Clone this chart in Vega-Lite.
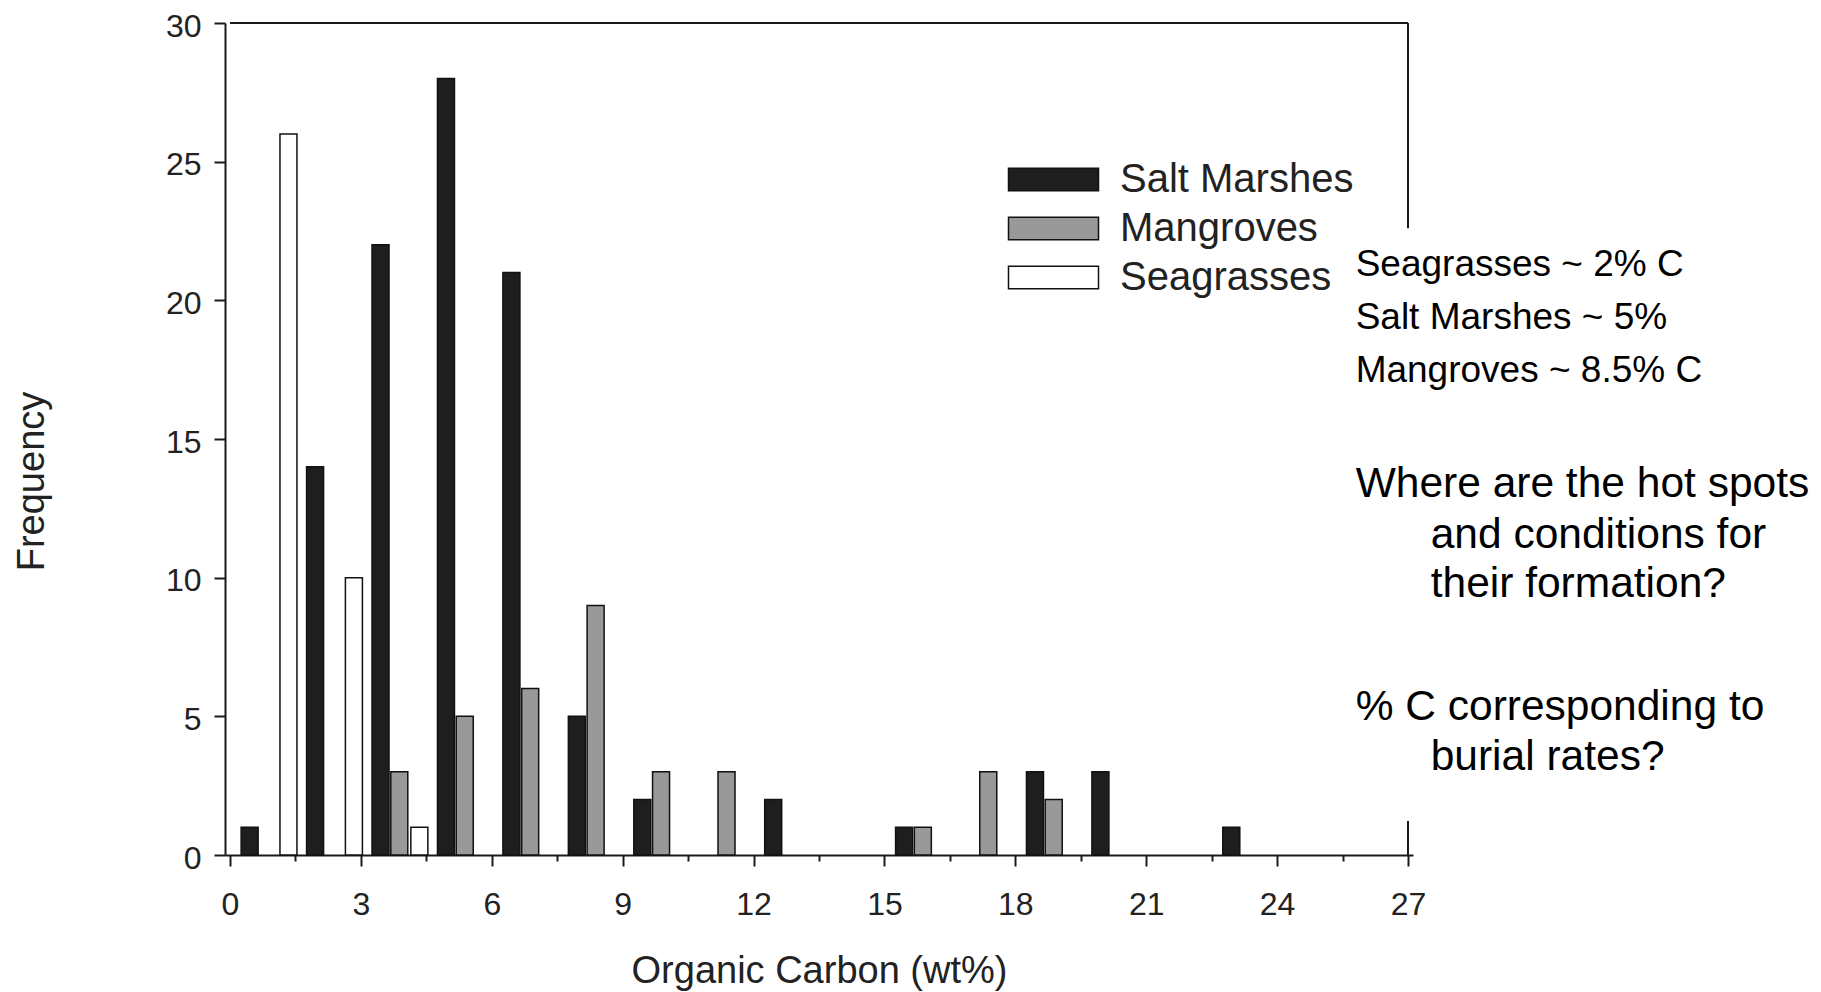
{
  "$schema": "https://vega.github.io/schema/vega-lite/v6.json",
  "width": 1188,
  "height": 832,
  "autosize": {"type": "none"},
  "padding": {"left": 225, "top": 23, "right": 408, "bottom": 137},
  "background": "white",
  "config": {
    "view": {"stroke": null},
    "font": "Liberation Sans",
    "axis": {
      "grid": false,
      "domainColor": "#1a1a1a",
      "domainWidth": 2,
      "tickColor": "#1a1a1a",
      "tickWidth": 2,
      "labelColor": "#222222",
      "titleColor": "#222222",
      "labelFont": "Liberation Sans",
      "titleFont": "Liberation Sans",
      "titleFontWeight": "normal",
      "labelFlush": false,
      "labelOverlap": false
    }
  },
  "datasets": {
    "hist": [
      {"oc": 0.45, "habitat": "Salt Marshes", "frequency": 1},
      {"oc": 1.95, "habitat": "Salt Marshes", "frequency": 14},
      {"oc": 3.45, "habitat": "Salt Marshes", "frequency": 22},
      {"oc": 4.95, "habitat": "Salt Marshes", "frequency": 28},
      {"oc": 6.45, "habitat": "Salt Marshes", "frequency": 21},
      {"oc": 7.95, "habitat": "Salt Marshes", "frequency": 5},
      {"oc": 9.45, "habitat": "Salt Marshes", "frequency": 2},
      {"oc": 12.45, "habitat": "Salt Marshes", "frequency": 2},
      {"oc": 15.45, "habitat": "Salt Marshes", "frequency": 1},
      {"oc": 18.45, "habitat": "Salt Marshes", "frequency": 3},
      {"oc": 19.95, "habitat": "Salt Marshes", "frequency": 3},
      {"oc": 22.95, "habitat": "Salt Marshes", "frequency": 1},
      {"oc": 3.88, "habitat": "Mangroves", "frequency": 3},
      {"oc": 5.38, "habitat": "Mangroves", "frequency": 5},
      {"oc": 6.88, "habitat": "Mangroves", "frequency": 6},
      {"oc": 8.38, "habitat": "Mangroves", "frequency": 9},
      {"oc": 9.88, "habitat": "Mangroves", "frequency": 3},
      {"oc": 11.38, "habitat": "Mangroves", "frequency": 3},
      {"oc": 15.88, "habitat": "Mangroves", "frequency": 1},
      {"oc": 17.38, "habitat": "Mangroves", "frequency": 3},
      {"oc": 18.88, "habitat": "Mangroves", "frequency": 2},
      {"oc": 1.34, "habitat": "Seagrasses", "frequency": 26},
      {"oc": 2.84, "habitat": "Seagrasses", "frequency": 10},
      {"oc": 4.34, "habitat": "Seagrasses", "frequency": 1}
    ],
    "one": [{}]
  },
  "layer": [
    {
      "data": {"name": "hist"},
      "mark": {"type": "bar", "strokeWidth": 1.5, "stroke": "#111111", "width": 17},
      "encoding": {
        "x": {
          "field": "oc", "type": "quantitative",
          "scale": {"domain": [0, 27], "nice": false, "zero": false},
          "axis": {
            "title": "Organic Carbon (wt%)",
            "values": [0, 1.5, 3, 4.5, 6, 7.5, 9, 10.5, 12, 13.5, 15, 16.5, 18, 19.5, 21, 22.5, 24, 25.5, 27],
            "labelExpr": "datum.value % 3 === 0 ? datum.label : ''",
            "tickSize": 11,
            "tickDash": {"condition": {"test": "datum.value % 3 === 0", "value": []}, "value": [6, 30]},
            "labelFontSize": 32,
            "labelPadding": 23,
            "titleFontSize": 38,
            "titleBaseline": "alphabetic",
            "titleY": 127
          }
        },
        "y": {
          "field": "frequency", "type": "quantitative",
          "scale": {"domain": [0, 30], "nice": false},
          "axis": {
            "title": "Frequency",
            "values": [0, 5, 10, 15, 20, 25, 30],
            "tickSize": 11,
            "labelFontSize": 32,
            "labelPadding": 13,
            "labelOffset": 3,
            "titleFontSize": 38,
            "titleAngle": -90,
            "titleAlign": "center",
            "titleBaseline": "alphabetic",
            "titleX": -182,
            "titleY": 458
          }
        },
        "fill": {
          "field": "habitat", "type": "nominal",
          "scale": {"domain": ["Salt Marshes", "Mangroves", "Seagrasses"], "range": ["#1e1e1e", "#999999", "#ffffff"]},
          "legend": {
            "title": null,
            "orient": "none",
            "legendX": 805,
            "legendY": 133,
            "symbolType": "M-2,-0.5H2V0.5H-2Z",
            "symbolSize": 2025,
            "symbolStrokeColor": "#111111",
            "symbolStrokeWidth": 1.5,
            "symbolOpacity": 1,
            "labelFontSize": 40,
            "labelFont": "Liberation Sans",
            "labelColor": "#222222",
            "labelOffset": 43,
            "rowPadding": 5,
            "labelLimit": 0
          }
        }
      }
    },
    {
      "data": {"name": "one"},
      "mark": {"type": "rule", "color": "#1a1a1a", "strokeWidth": 2},
      "encoding": {
        "x": {"datum": 0, "type": "quantitative"},
        "x2": {"datum": 27},
        "y": {"datum": 30, "type": "quantitative"}
      }
    },
    {
      "data": {"name": "one"},
      "mark": {"type": "rule", "color": "#1a1a1a", "strokeWidth": 2},
      "encoding": {
        "x": {"datum": 27, "type": "quantitative"},
        "y": {"datum": 30, "type": "quantitative"},
        "y2": {"datum": 22.6}
      }
    },
    {
      "data": {"name": "one"},
      "mark": {"type": "rule", "color": "#1a1a1a", "strokeWidth": 2},
      "encoding": {
        "x": {"datum": 27, "type": "quantitative"},
        "y": {"datum": 1.23, "type": "quantitative"},
        "y2": {"datum": 0}
      }
    },
    {
      "data": {"name": "one"},
      "mark": {"type": "text", "align": "left", "baseline": "alphabetic", "fontSize": 37, "lineHeight": 53, "color": "#000000", "font": "Liberation Sans", "text": ["Seagrasses ~ 2% C", "Salt Marshes ~ 5%", "Mangroves ~ 8.5% C"]},
      "encoding": {
        "x": {"datum": 25.8, "type": "quantitative"},
        "y": {"datum": 20.88, "type": "quantitative"}
      }
    },
    {
      "data": {"name": "one"},
      "mark": {"type": "text", "align": "left", "baseline": "alphabetic", "fontSize": 42.5, "color": "#000000", "font": "Liberation Sans", "text": "Where are the hot spots"},
      "encoding": {
        "x": {"datum": 25.8, "type": "quantitative"},
        "y": {"datum": 12.91, "type": "quantitative"}
      }
    },
    {
      "data": {"name": "one"},
      "mark": {"type": "text", "align": "left", "baseline": "alphabetic", "fontSize": 42.5, "lineHeight": 49.5, "color": "#000000", "font": "Liberation Sans", "text": ["and conditions for", "their formation?"]},
      "encoding": {
        "x": {"datum": 27.52, "type": "quantitative"},
        "y": {"datum": 11.07, "type": "quantitative"}
      }
    },
    {
      "data": {"name": "one"},
      "mark": {"type": "text", "align": "left", "baseline": "alphabetic", "fontSize": 42.5, "color": "#000000", "font": "Liberation Sans", "text": "% C corresponding to"},
      "encoding": {
        "x": {"datum": 25.8, "type": "quantitative"},
        "y": {"datum": 4.87, "type": "quantitative"}
      }
    },
    {
      "data": {"name": "one"},
      "mark": {"type": "text", "align": "left", "baseline": "alphabetic", "fontSize": 42.5, "color": "#000000", "font": "Liberation Sans", "text": "burial rates?"},
      "encoding": {
        "x": {"datum": 27.52, "type": "quantitative"},
        "y": {"datum": 3.06, "type": "quantitative"}
      }
    }
  ]
}
